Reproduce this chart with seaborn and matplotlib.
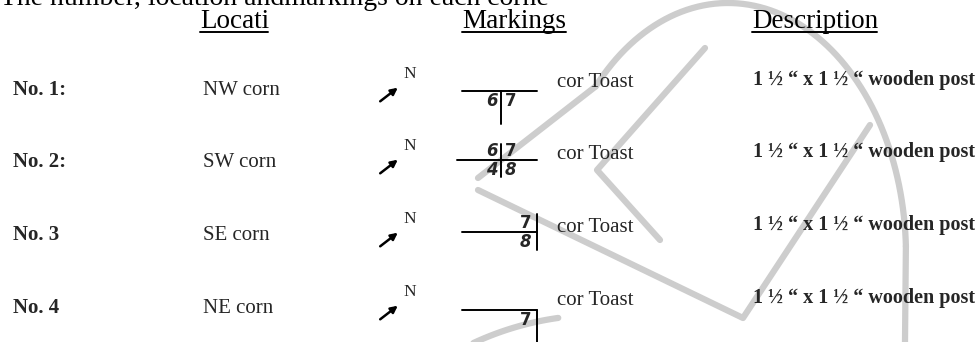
import matplotlib
matplotlib.use("Agg")
import matplotlib.pyplot as plt
import seaborn as sns
import numpy as np
import pandas as pd

sns.set_theme(style="white")
plt.rcParams['font.family'] = ['Liberation Serif', 'DejaVu Serif']

# ---- data ----
title_text = "The number, location andmarkings on each corne"
headers = ["Locati", "Markings", "Description"]
row_labels = ["No. 1:", "No. 2:", "No. 3", "No. 4"]
locations = ["NW corn", "SW corn", "SE corn", "NE corn"]
mark_names = ["cor Toast", "cor Toast", "cor Toast", "cor Toast"]
descriptions = ["1 \u00bd \u201c x 1 \u00bd \u201c wooden post"] * 4
# marking digits: (upper-left, upper-right, lower-left, lower-right)
marks_ul = ["", "6", "", ""]
marks_ur = ["", "7", "7", ""]
marks_ll = ["6", "4", "", ""]
marks_lr = ["7", "8", "8", "7"]

# ---- layout (pixel space) ----
W, H = 980, 342
fig = plt.figure(figsize=(W / 100, H / 100), dpi=100)
ax = fig.add_axes([0, 0, 1, 1])
ax.set_xlim(0, W)
ax.set_ylim(H, 0)
ax.axis("off")

base_y = [95, 167, 240, 313]
line_y = [91, 160, 232, 310]

# watermark (light grey outline logo)
wm = "#cdcdcd"
lw_wm = 4.5
t = np.linspace(np.radians(222), np.radians(358), 300)
ex = 728 + 178 * np.cos(t)
ey = 255 + 252 * np.sin(t)
ax.plot(ex, ey, color=wm, lw=lw_wm, zorder=0, solid_capstyle="round")
ax.plot([ex[-1], 905], [ey[-1], 342], color=wm, lw=lw_wm, zorder=0)
ax.plot([ex[0], 478], [ey[0], 178], color=wm, lw=lw_wm, zorder=0, solid_capstyle="round")
vdf = pd.DataFrame({"x": [478, 743, 870], "y": [190, 318, 125]})
sns.lineplot(data=vdf, x="x", y="y", sort=False, color=wm, lw=lw_wm, ax=ax, zorder=0)
ax.plot([705, 597, 660], [48, 170, 240], color=wm, lw=lw_wm, zorder=0, solid_capstyle="round")
t2 = np.linspace(np.radians(205), np.radians(262), 100)
ax.plot(600 + 300 * np.cos(t2), 615 + 300 * np.sin(t2), color=wm, lw=lw_wm, zorder=0)
ax.set_xlabel("")
ax.set_ylabel("")

# title & headers
ax.text(0, 5, title_text, fontsize=20, va="baseline", ha="left", color="black")
hx = [200, 462, 752]
for x, h in zip(hx, headers):
    ax.text(x, 28, h, fontsize=19.5, va="baseline", ha="left", color="black")
hw = [68, 104, 125]
for x, w in zip(hx, hw):
    ax.plot([x, x + w], [31.5, 31.5], color="black", lw=1.4)

for i, b in enumerate(base_y):
    ax.text(13, b, row_labels[i], fontsize=15, fontweight="bold", va="baseline", ha="left")
    ax.text(203, b, locations[i], fontsize=15, va="baseline", ha="left")
    # north arrow
    ax.annotate("", xy=(400, b - 9), xytext=(378, b + 8),
                arrowprops=dict(arrowstyle="-|>", color="black", lw=1.8, mutation_scale=10))
    ax.text(403, b - 17, "N", fontsize=12.5, va="baseline", ha="left")
    # markings
    ly = line_y[i]
    vx = 501 if i < 2 else 537
    x0 = 462 if i != 1 else 457
    ax.plot([x0, 537], [ly, ly], color="black", lw=1.4)
    if i == 0:
        top, bot = ly, ly + 33
    elif i == 1:
        top, bot = ly - 16, ly + 17
    elif i == 2:
        top, bot = ly - 18, ly + 18
    else:
        top, bot = ly, ly + 34
    ax.plot([vx, vx], [top, bot], color="black", lw=1.4)
    if i < 2:
        lx, rx = vx - 15, vx + 4
    else:
        lx, rx = vx - 22, vx - 17
    fs = 12
    dkw = dict(fontsize=fs, fontweight="bold", va="center", ha="left", family="DejaVu Sans")
    if marks_ul[i]:
        ax.text(lx, ly - 9, marks_ul[i], style="italic", **dkw)
    if marks_ur[i]:
        ax.text(rx, ly - 9, marks_ur[i], **dkw)
    if marks_ll[i]:
        ax.text(lx, ly + 10, marks_ll[i], style="italic", **dkw)
    if marks_lr[i]:
        ax.text(rx, ly + 10, marks_lr[i], style="italic" if marks_lr[i] == "8" else "normal", **dkw)
    ax.text(557, b - 8, mark_names[i], fontsize=15, va="baseline", ha="left")
    ax.text(753, b - 10, descriptions[i], fontsize=14.5, fontweight="bold", va="baseline", ha="left")

fig.savefig("out.png", dpi=100, facecolor="white")
